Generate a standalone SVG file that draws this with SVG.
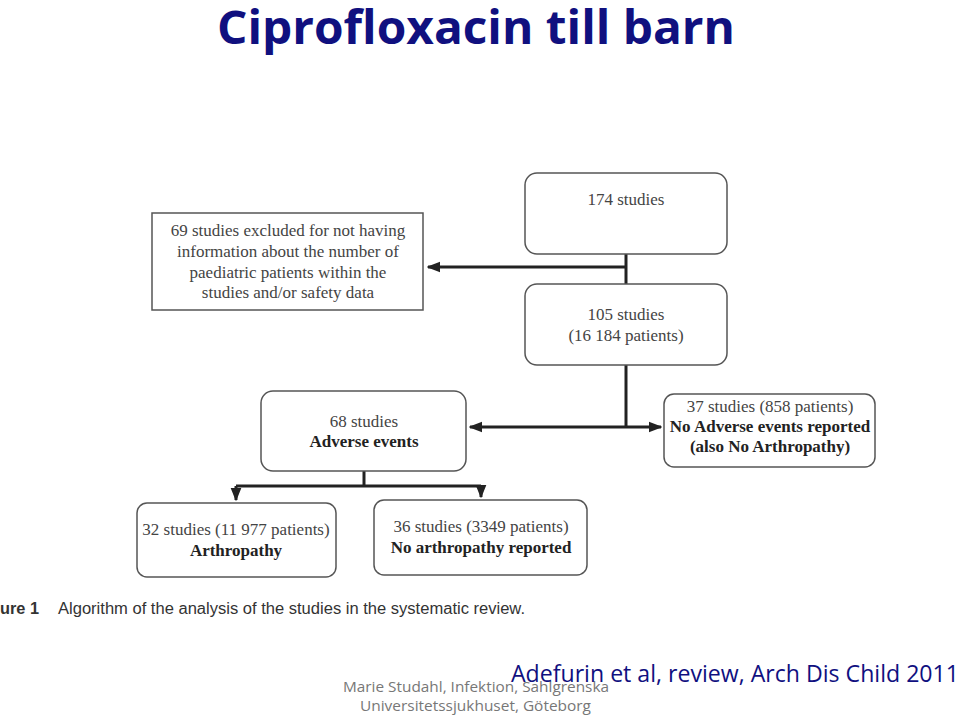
<svg xmlns="http://www.w3.org/2000/svg" width="960" height="715" viewBox="0 0 960 715">
<defs>
<style>
.box{fill:#fff;stroke:#555;stroke-width:1.5}
.t{font-family:"Liberation Serif",serif;font-size:17px;fill:#444;text-anchor:middle}
.b{font-family:"Liberation Serif",serif;font-size:17px;font-weight:bold;fill:#222;text-anchor:middle}
.ln{fill:none;stroke:#222;stroke-width:3}
</style>
<marker id="ah" viewBox="0 0 10 10" refX="9" refY="5" markerWidth="4.5" markerHeight="4.5" orient="auto" markerUnits="strokeWidth">
<path d="M0,1 L10,5 L0,9 z" fill="#222"/>
</marker>
</defs>
<rect width="960" height="715" fill="#fff"/>
<text x="217" y="44" font-family="'Open Sans','Liberation Sans',sans-serif" font-size="47" font-weight="bold" fill="#10107f" textLength="518" lengthAdjust="spacingAndGlyphs">Ciprofloxacin till barn</text>

<g id="connectors">
<path class="ln" d="M626,254 V284"/>
<path class="ln" d="M626,267 H428" marker-end="url(#ah)"/>
<path class="ln" d="M626,365 V427"/>
<path class="ln" d="M626,427 H470" marker-end="url(#ah)"/>
<path class="ln" d="M626,427 H661" marker-end="url(#ah)"/>
<path class="ln" d="M364,471 V486"/>
<path class="ln" d="M236,486 H481"/>
<path class="ln" d="M236,486 V500" marker-end="url(#ah)"/>
<path class="ln" d="M481,486 V497" marker-end="url(#ah)"/>
</g>

<g id="n174">
<rect class="box" x="525" y="173" width="202" height="81" rx="12"/>
<text class="t" x="626" y="205">174 studies</text>
</g>
<g id="n105">
<rect class="box" x="525" y="284" width="202" height="81" rx="12"/>
<text class="t" x="626" y="320">105 studies</text>
<text class="t" x="626" y="341">(16 184 patients)</text>
</g>
<g id="excluded">
<rect class="box" x="152" y="213" width="271" height="97" stroke="#666"/>
<text class="t" x="288" y="236">69 studies excluded for not having</text>
<text class="t" x="288" y="257">information about the number of</text>
<text class="t" x="288" y="278">paediatric patients within the</text>
<text class="t" x="288" y="298">studies and/or safety data</text>
</g>
<g id="n68">
<rect class="box" x="261" y="391" width="205" height="80" rx="12"/>
<text class="t" x="364" y="427">68 studies</text>
<text class="b" x="364" y="447">Adverse events</text>
</g>
<g id="n37">
<rect class="box" x="664" y="394" width="211" height="73" rx="10"/>
<text class="t" x="770" y="412">37 studies (858 patients)</text>
<text class="b" x="770" y="432">No Adverse events reported</text>
<text class="b" x="770" y="452">(also No Arthropathy)</text>
</g>
<g id="n32">
<rect class="box" x="137" y="503" width="199" height="74" rx="10"/>
<text class="t" x="236" y="535">32 studies (11 977 patients)</text>
<text class="b" x="236" y="556">Arthropathy</text>
</g>
<g id="n36">
<rect class="box" x="374" y="500" width="213" height="75" rx="10"/>
<text class="t" x="481" y="532">36 studies (3349 patients)</text>
<text class="b" x="481" y="553">No arthropathy reported</text>
</g>

<text x="0" y="614" font-family="'Liberation Sans',sans-serif" font-size="16" font-weight="bold" fill="#333" textLength="39" lengthAdjust="spacingAndGlyphs">ure 1</text>
<text x="58" y="614" font-family="'Liberation Sans',sans-serif" font-size="16" fill="#333" textLength="467" lengthAdjust="spacingAndGlyphs">Algorithm of the analysis of the studies in the systematic review.</text>

<text x="343" y="692" font-family="'Open Sans','Liberation Sans',sans-serif" font-size="15" fill="#777" textLength="266" lengthAdjust="spacingAndGlyphs">Marie Studahl, Infektion, Sahlgrenska</text>
<text x="360" y="711" font-family="'Open Sans','Liberation Sans',sans-serif" font-size="15" fill="#777" textLength="231" lengthAdjust="spacingAndGlyphs">Universitetssjukhuset, Göteborg</text>
<text x="511" y="682" font-family="'Open Sans','Liberation Sans',sans-serif" font-size="23" fill="#10107f" textLength="448" lengthAdjust="spacingAndGlyphs">Adefurin et al, review, Arch Dis Child 2011</text>
</svg>
